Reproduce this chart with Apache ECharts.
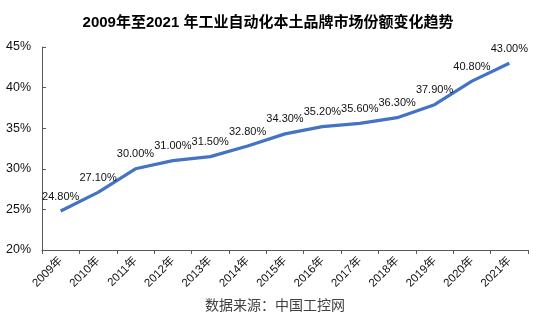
<!DOCTYPE html>
<html><head><meta charset="utf-8">
<script src="https://cdn.jsdelivr.net/npm/echarts@6/dist/echarts.min.js"></script>
<style>html,body{margin:0;padding:0;background:#fff}#c{width:536px;height:326px}</style>
</head><body><div id="c"></div>
<script>
const categories = ['2009年','2010年','2011年','2012年','2013年','2014年','2015年','2016年','2017年','2018年','2019年','2020年','2021年'];
const shares = [24.8, 27.1, 30.0, 31.0, 31.5, 32.8, 34.3, 35.2, 35.6, 36.3, 37.9, 40.8, 43.0];
const titleText = '2009年至2021 年工业自动化本土品牌市场份额变化趋势';
const sourceText = '数据来源：中国工控网';

const chart = echarts.init(document.getElementById('c'), null, {renderer:'canvas'});
chart.setOption({
  animation:false,
  title:{text:titleText,left:'center',top:10,textStyle:{fontFamily:'Liberation Sans, Noto Sans CJK SC',fontSize:15,fontWeight:'bold',color:'#000'}},
  graphic:[{type:'text',left:205,top:298,style:{text:sourceText,font:'14px "Noto Sans CJK SC"',fill:'#404040'}}],
  grid:{left:42,right:8,top:47,bottom:76},
  xAxis:{type:'category',data:categories,boundaryGap:true,
    axisLine:{lineStyle:{color:'#595959',width:1}},
    axisTick:{show:true,alignWithLabel:false,length:4,lineStyle:{color:'#595959'}},
    axisLabel:{rotate:45,fontSize:11.5,color:'#111',fontFamily:'Liberation Sans, Noto Sans CJK SC',margin:9,interval:0}},
  yAxis:{type:'value',min:20,max:45,interval:5,
    axisLine:{show:true,lineStyle:{color:'#595959'}},
    axisTick:{show:true,inside:true,length:4,lineStyle:{color:'#595959'}},
    splitLine:{show:false},
    axisLabel:{formatter:'{value}%',fontSize:12.5,color:'#111',fontFamily:'Liberation Sans',margin:11}},
  series:[{type:'line',data:shares,symbol:'circle',symbolSize:0,showSymbol:true,
    itemStyle:{color:'#4472C4'},
    lineStyle:{color:'#4472C4',width:3.2},
    label:{show:true,position:'top',distance:9,formatter:function(p){return Number(p.value).toFixed(2)+'%';},fontSize:11,color:'#111',fontFamily:'Liberation Sans'}}]
});
</script></body></html>
